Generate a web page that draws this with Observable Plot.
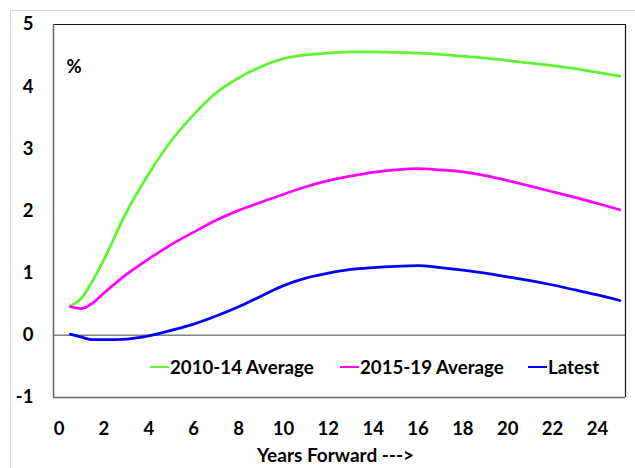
<!DOCTYPE html>
<html>
<head>
<meta charset="utf-8">
<script src="https://cdn.jsdelivr.net/npm/d3@7"></script>
<script src="https://cdn.jsdelivr.net/npm/@observablehq/plot@0.6"></script>
<style>
  html, body { margin: 0; padding: 0; background: #fff; }
  #wrap { position: relative; width: 635px; height: 468px; overflow: hidden; font-family: Lato, "Open Sans", sans-serif; }
  #border { position: absolute; left: 10px; top: 10px; width: 700px; height: 600px; border-left: 1.5px solid #d9d9d9; border-top: 1.5px solid #d9d9d9; }
  #chart { position: absolute; left: 0; top: 0; }
  #legend { position: absolute; top: 355px; left: 0; width: 635px; height: 24px; font-size: 18.7px; font-weight: bold; color: #000; }
  .item { position: absolute; top: 0; display: flex; align-items: center; height: 24px; white-space: nowrap; }
  .sw { display: inline-block; width: 19px; height: 2.5px; margin-right: 1px; }
</style>
</head>
<body>
<div id="wrap">
  <div id="border"></div>
  <div id="chart"></div>
  <div id="legend"></div>
</div>
<script>
// ---- data ----
const years    = [0.5, 1, 1.5, 2, 3, 4, 5, 6, 7, 8, 9, 10, 11, 12, 13, 14, 15, 16, 17, 18, 19, 20, 21, 22, 23, 24, 25];
const avg1014  = [0.47, 0.60, 0.88, 1.22, 1.98, 2.60, 3.13, 3.55, 3.90, 4.14, 4.32, 4.45, 4.51, 4.54, 4.56, 4.56, 4.55, 4.54, 4.52, 4.49, 4.46, 4.42, 4.38, 4.34, 4.29, 4.23, 4.17];
const avg1519  = [0.46, 0.43, 0.52, 0.68, 0.98, 1.23, 1.46, 1.66, 1.85, 2.01, 2.14, 2.27, 2.39, 2.49, 2.56, 2.62, 2.66, 2.68, 2.66, 2.63, 2.57, 2.49, 2.40, 2.31, 2.22, 2.12, 2.02];
const latest   = [0.02, -0.03, -0.07, -0.07, -0.06, -0.01, 0.08, 0.18, 0.31, 0.46, 0.63, 0.80, 0.92, 1.00, 1.06, 1.09, 1.11, 1.12, 1.09, 1.05, 1.00, 0.94, 0.88, 0.81, 0.73, 0.65, 0.56];
const seriesNames  = ["2010-14 Average", "2015-19 Average", "Latest"];
const seriesColors = ["#5ef530", "#ff00ff", "#0000ff"];
const xTicks = [0, 2, 4, 6, 8, 10, 12, 14, 16, 18, 20, 22, 24];
const yTicks = [-1, 0, 1, 2, 3, 4, 5];
const xDomain = [-0.25, 25.25];
const yDomain = [-1, 5];
const xTitle = "Years Forward --->";
const unitLabel = "%";

// ---- table ----
const seriesValues = [avg1014, avg1519, latest];
const rows = [];
seriesNames.forEach((name, i) => {
  years.forEach((yr, j) => rows.push({year: yr, value: seriesValues[i][j], series: name}));
});

const fmt = d => String(d);

const chart = Plot.plot({
  width: 635,
  height: 468,
  marginLeft: 53,
  marginRight: 10,
  marginTop: 24,
  marginBottom: 71,
  style: {fontFamily: "Lato, 'Open Sans', sans-serif", fontWeight: "bold", color: "#000", background: "transparent"},
  x: {domain: xDomain},
  y: {domain: yDomain},
  color: {domain: seriesNames, range: seriesColors},
  marks: [
    Plot.ruleY([0], {stroke: "#808080", strokeWidth: 1.5}),
    Plot.ruleY([yDomain[1]], {stroke: "#111", strokeWidth: 1.2}),
    Plot.ruleX([xDomain[1]], {stroke: "#111", strokeWidth: 1.2}),
    Plot.ruleY([yDomain[0]], {stroke: "#666", strokeWidth: 1.5}),
    Plot.ruleX([xDomain[0]], {stroke: "#666", strokeWidth: 1.5}),
    Plot.line(rows, {x: "year", y: "value", z: "series", stroke: "series", strokeWidth: 2.75, curve: "monotone-x"}),
    Plot.axisY({ticks: yTicks, tickFormat: fmt, tickSize: 0, tickPadding: 20, fontSize: 18.5, fontWeight: "bold", label: null}),
    Plot.axisX({ticks: xTicks, tickFormat: fmt, tickSize: 0, tickPadding: 24, fontSize: 18.5, fontWeight: "bold", label: null}),
    Plot.text([xTitle], {frameAnchor: "bottom", dx: -4, dy: 58, lineAnchor: "middle", fontSize: 19, fontWeight: "bold", fill: "#000"}),
    Plot.text([unitLabel], {frameAnchor: "top-left", dx: 13, dy: 43, textAnchor: "start", lineAnchor: "middle", fontSize: 18.5, fontWeight: "bold", fill: "#000"})
  ]
});
document.getElementById("chart").appendChild(chart);

// ---- legend (overlay inside plot area) ----
const legendX = [150, 340, 528];
const legend = document.getElementById("legend");
seriesNames.forEach((name, i) => {
  const item = document.createElement("div");
  item.className = "item";
  item.style.left = legendX[i] + "px";
  const sw = document.createElement("span");
  sw.className = "sw";
  sw.style.background = seriesColors[i];
  item.appendChild(sw);
  item.appendChild(document.createTextNode(name));
  legend.appendChild(item);
});
</script>
</body>
</html>
